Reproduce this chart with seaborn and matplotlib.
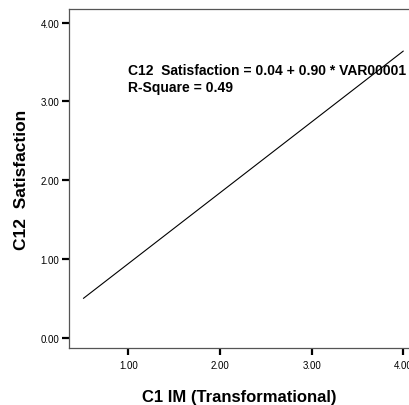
import matplotlib
matplotlib.use("Agg")
import matplotlib.pyplot as plt
import seaborn as sns
import pandas as pd

# Data: fitted regression line endpoints
x_vals = [0.51, 4.00]
y_vals = [0.50, 3.64]
x_ticks = [1.0, 2.0, 3.0, 4.0]
y_ticks = [0.0, 1.0, 2.0, 3.0, 4.0]
equation = "C12  Satisfaction = 0.04 + 0.90 * VAR00001"
rsq = "R-Square = 0.49"

sns.set_theme(style="white")
plt.rcParams['font.family'] = ['Liberation Sans', 'DejaVu Sans']
plt.rcParams['text.color'] = 'black'
plt.rcParams['axes.labelcolor'] = 'black'
plt.rcParams['xtick.color'] = 'black'
plt.rcParams['ytick.color'] = 'black'

fig = plt.figure(figsize=(4.10, 4.06), dpi=100)
ax = fig.add_axes([69/410, 57/406, 341/410, 339/406])

df = pd.DataFrame({"x": x_vals, "y": y_vals})
sns.lineplot(data=df, x="x", y="y", ax=ax, color="black", linewidth=0.8)

ax.set_xlim(0.353, 4.073)
ax.set_ylim(-0.13, 4.174)
ax.set_xticks(x_ticks)
ax.set_yticks(y_ticks)
ax.set_xticklabels([f"{v:.2f}" for v in x_ticks], fontsize=7)
ax.set_yticklabels([f"{v:.2f}" for v in y_ticks], fontsize=7)
ax.tick_params(axis="both", which="major", direction="out", length=5, width=1.6,
               color="black", labelcolor="black", bottom=True, left=True)
ax.tick_params(axis="x", pad=4)
ax.tick_params(axis="y", pad=2)

for s in ["left", "bottom", "top"]:
    ax.spines[s].set_visible(True)
    ax.spines[s].set_color("#555555")
    ax.spines[s].set_linewidth(0.9)
ax.spines["right"].set_visible(False)

ax.set_xlabel("C1 IM (Transformational)", fontsize=12, fontweight="bold",
              labelpad=13, color="black")
ax.set_ylabel("C12  Satisfaction", fontsize=12.5, fontweight="bold",
              labelpad=8, color="black")

ax.text(1.0, 3.40, equation, fontsize=10, fontweight="bold", ha="left",
        va="center", color="black")
ax.text(1.0, 3.19, rsq, fontsize=10, fontweight="bold", ha="left",
        va="center", color="black")

fig.savefig("out.png", dpi=100)
